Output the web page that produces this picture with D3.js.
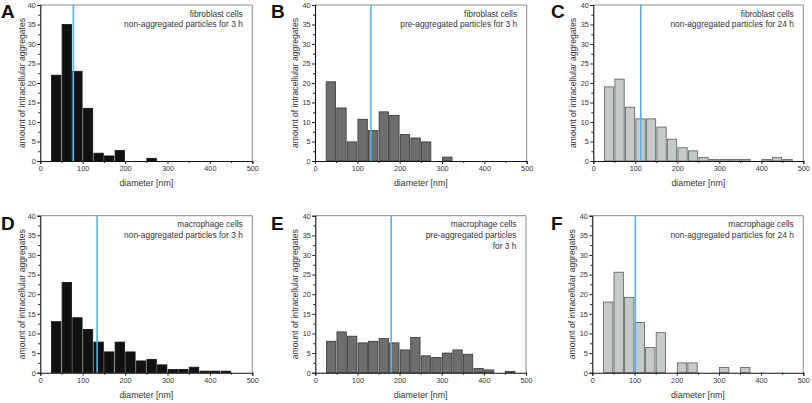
<!DOCTYPE html>
<html><head><meta charset="utf-8">
<script src="https://cdn.jsdelivr.net/npm/d3@7"></script>
<style>body{margin:0;background:#fff}svg{display:block}text{font-family:"Liberation Sans",Arial,sans-serif}</style>
</head><body><svg id="c" width="812" height="403"></svg>
<script>
// ---- data ----
const binStarts = [25,50,75,100,125,150,175,200,225,250,275,300,325,350,375,400,425,450];
const binWidth = 25;
const countsA = [22,35,23,13.5,2,1.3,2.7,0,0,0.7,0,0,0,0,0,0,0,0];
const countsB = [20.3,13.6,4.9,10.7,7.8,12.6,11.7,6.8,5.9,4.9,0,1,0,0,0,0,0,0];
const countsC = [19,21,13.8,10.8,10.8,8.7,5.6,3.4,2.6,0.9,0.4,0.4,0.4,0.4,0,0.4,0.9,0.4];
const countsD = [13,23,14,11,7.8,5.3,7.8,5.3,3,3.4,2,0.8,0.8,1.4,0.4,0.4,0.4,0];
const countsE = [8,10.4,9.3,7.6,8,8.7,7.6,5.8,9,4.3,3.9,5,5.8,4.7,1.1,0.7,0,0.35];
const countsF = [18,25.6,19.2,12.8,6.4,10.2,0,2.5,2.5,0,0,1.3,0,1.3,0,0,0,0];
const meanLines = [78,132,113,134,180,102];
const panelLetters = ["A","B","C","D","E","F"];
const annotations = [
  ["fibroblast cells","non-aggregated particles for 3 h"],
  ["fibroblast cells","pre-aggregated particles for 3 h"],
  ["fibroblast cells","non-aggregated particles for 24 h"],
  ["macrophage cells","non-aggregated particles for 3 h"],
  ["macrophage cells","pre-aggregated particles","for 3 h"],
  ["macrophage cells","non-aggregated particles for 24 h"]
];
const xTicks = [0,100,200,300,400,500];
const yTicks = [0,5,10,15,20,25,30,35,40];
const xLabel = "diameter [nm]";
const yLabel = "amount of intracellular aggregates";

// ---- layout / style ----
const boxes = [
  {l:40.3,r:252.3,t:5,b:161, lx:1, ly:18, yl:15},
  {l:315,r:526.7,t:5,b:161, lx:271, ly:18, yl:17},
  {l:593.3,r:803.3,t:5,b:161, lx:551, ly:18, yl:17},
  {l:40.3,r:252.3,t:215.7,b:372.7, lx:1, ly:230, yl:15},
  {l:315.3,r:526,t:215.7,b:372.7, lx:271, ly:230, yl:17},
  {l:592.3,r:803.3,t:215.7,b:372.7, lx:551, ly:230, yl:17}
];
const fills = ["#111111","#6e6e6e","#c6c9c9","#111111","#6e6e6e","#c6c9c9"];
const strokes = ["#111111","#333333","#5a5a5a","#111111","#333333","#5a5a5a"];
const allCounts = [countsA,countsB,countsC,countsD,countsE,countsF];
const blue = "#55b1e8";

const svg = d3.select("#c");
allCounts.forEach((counts,i)=>{
  const bx = boxes[i];
  const x = d3.scaleLinear().domain([0,500]).range([bx.l,bx.r]);
  const y = d3.scaleLinear().domain([0,40]).range([bx.b,bx.t]);
  const g = svg.append("g");
  g.append("path").attr("d",`M${bx.l},${bx.t}H${bx.r}V${bx.b}`).attr("fill","none").attr("stroke","#8a8a8a").attr("stroke-width",1);
  const data = binStarts.map((s,k)=>({s,v:counts[k]})).filter(d=>d.v>0);
  g.selectAll("rect").data(data).enter().append("rect")
    .attr("x",d=>x(d.s)+0.6).attr("width",d=>x(d.s+binWidth)-x(d.s)-1.2)
    .attr("y",d=>y(d.v)).attr("height",d=>y(0)-y(d.v))
    .attr("fill",fills[i]).attr("stroke",strokes[i]).attr("stroke-width",0.8);
  g.append("line").attr("x1",x(meanLines[i])).attr("x2",x(meanLines[i]))
    .attr("y1",bx.t).attr("y2",bx.b).attr("stroke",blue).attr("stroke-width",1.6);
  const xa = g.append("g").attr("transform",`translate(0,${bx.b})`)
    .call(d3.axisBottom(x).tickValues(xTicks).tickSize(3).tickFormat(d3.format("d")));
  g.append("g").attr("transform",`translate(0,${bx.b})`)
    .call(d3.axisBottom(x).tickValues([50,150,250,350,450]).tickSize(2).tickFormat(""))
    .call(a=>a.select(".domain").remove());
  const ya = g.append("g").attr("transform",`translate(${bx.l},0)`)
    .call(d3.axisLeft(y).tickValues(yTicks).tickSize(3).tickFormat(d3.format("d")));
  g.append("g").attr("transform",`translate(${bx.l},0)`)
    .call(d3.axisLeft(y).tickValues(d3.range(2.5,40,5)).tickSize(2).tickFormat(""))
    .call(a=>a.select(".domain").remove());
  g.selectAll(".domain").attr("stroke","#111").attr("stroke-width",1.1);
  g.selectAll(".tick line").attr("stroke","#222");
  xa.selectAll("text").attr("font-size",7.3).attr("fill","#333").attr("dy","0.85em").attr("y",4);
  ya.selectAll("text").attr("font-size",7.3).attr("fill","#333").attr("x",-4.5);
  g.append("text").attr("x",(bx.l+bx.r)/2).attr("y",bx.b+25).attr("text-anchor","middle")
    .attr("font-size",8.8).attr("fill","#333").text(xLabel);
  g.append("text").attr("transform",`translate(${bx.l-bx.yl},${(bx.t+bx.b)/2}) rotate(-90)`)
    .attr("text-anchor","middle").attr("font-size",8.6).attr("fill","#333").text(yLabel);
  annotations[i].forEach((line,k)=>{
    g.append("text").attr("x",bx.r-9.5).attr("y",bx.t+11.5+k*10.8).attr("text-anchor","end")
      .attr("font-size",8.4).attr("fill","#333").text(line);
  });
  svg.append("text").attr("x",bx.lx).attr("y",bx.ly).attr("font-size",19).attr("font-weight","bold")
    .attr("fill","#111").text(panelLetters[i]);
});
</script></body></html>
